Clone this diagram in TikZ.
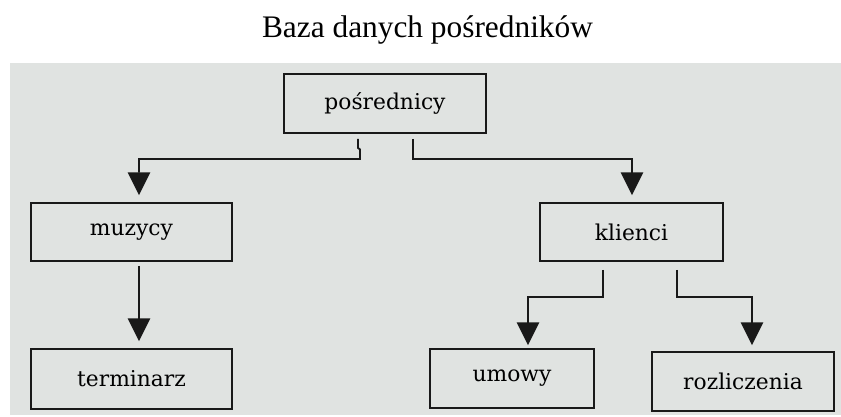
\documentclass[tikz,border=0pt]{standalone}
\usepackage{fontspec}
\setmainfont{Liberation Serif}
\newfontfamily\boxfont{DejaVu Serif}
\usepackage{tikz}
\usetikzlibrary{
  arrows.meta,
  calc
}
\definecolor{panelcolor}{RGB}{224, 227, 225}
\definecolor{linecolor}{RGB}{25, 25, 25}
\tikzset{
boxtext/.style={
  align=center,
  font=\boxfont\fontsize{15.5}{18}\selectfont,
  text=black
},
boxblock/.style={
  draw=linecolor,
  line width=1.3pt,
  inner sep=0pt,
  boxtext
},
titlelabel/.style={
  font=\fontsize{22.3}{26}\selectfont,
  text=black
},
arrow/.style={
  -{Triangle[length=5.7mm,width=5.6mm]},
  line width=1.3pt,
  draw=linecolor
}
}

\begin{document}
\begin{tikzpicture}[x=0.025cm, y=-0.025cm]
  % Canvas and grey panel
  \fill[white] (0,0) rectangle (841,416);
  \useasboundingbox (0,0) rectangle (841,416);
  \fill[panelcolor] (10,63) rectangle (841,415);

  % Title
  \node[titlelabel, anchor=base] (title) at (427.5,37) {Baza danych pośredników};

  % Level 1
  \node[boxblock, minimum width=5.05cm, minimum height=1.475cm] (posrednicy) at (385,103.5) {pośrednicy};

  % Level 2
  \node[boxblock, minimum width=5.025cm, minimum height=1.45cm] (muzycy) at (131.5,232) {muzycy};
  \node[boxblock, minimum width=4.575cm, minimum height=1.45cm] (klienci) at (631.5,232) {klienci};

  % Level 3
  \node[boxblock, minimum width=5.025cm, minimum height=1.5cm] (terminarz) at (131.5,379) {terminarz};
  \node[boxblock, minimum width=4.1cm, minimum height=1.475cm] (umowy) at (512,378.5) {umowy};
  \node[boxblock, minimum width=4.55cm, minimum height=1.475cm] (rozliczenia) at (743,381.5) {rozliczenia};

  % Connectors
  \draw[arrow] ($(posrednicy.south)+(-27,5)$) -- ++(0,9) -- ++(2,1.5) -- ++(0,9.5)
    -| ($(muzycy.north)+(7.5,-7)$);
  \draw[arrow] ($(posrednicy.south)+(28,5)$) -- ++(0,20)
    -| ($(klienci.north)+(0.5,-7)$);
  \draw[arrow] ($(muzycy.south)+(7.5,4)$) -- ($(terminarz.north)+(7.5,-7)$);
  \draw[arrow] ($(klienci.south)+(-28.5,8)$) -- ++(0,27)
    -| ($(umowy.north)+(16,-3)$);
  \draw[arrow] ($(klienci.south)+(45.5,8)$) -- ++(0,27)
    -| ($(rozliczenia.north)+(9,-6)$);
\end{tikzpicture}
\end{document}
